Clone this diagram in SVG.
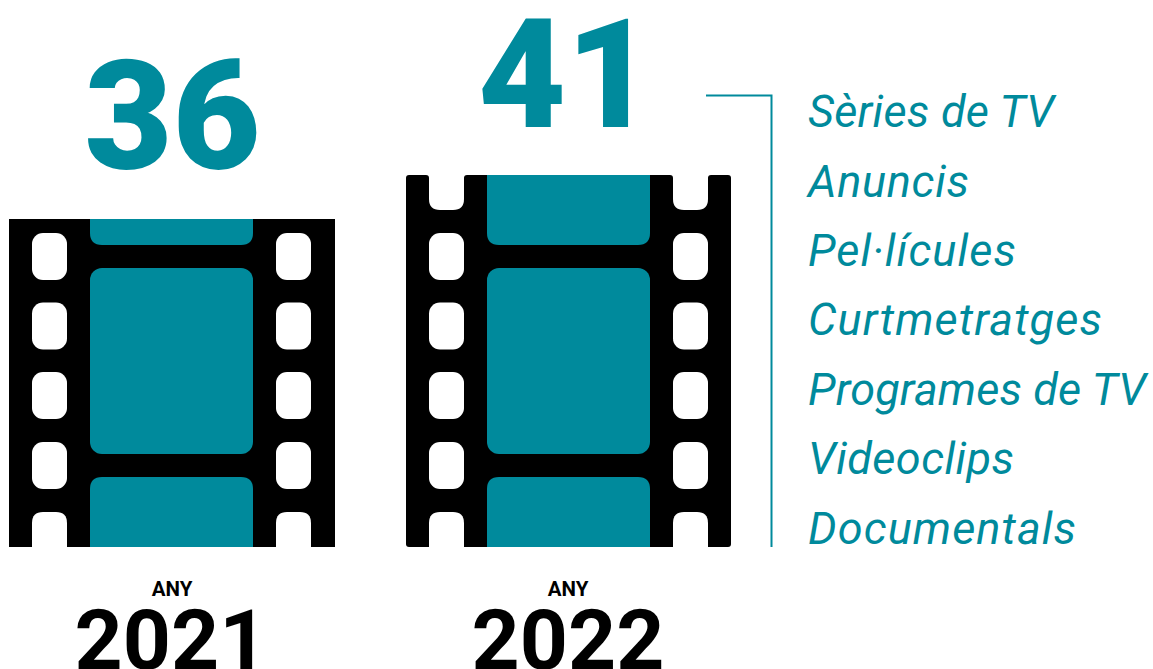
<svg xmlns="http://www.w3.org/2000/svg" width="1153" height="669" viewBox="0 0 1153 669">
<defs><style>
.num{font-family:"Roboto","Liberation Sans",sans-serif;font-weight:900;fill:#008a9c;font-size:152px;text-anchor:middle}
.year{font-family:"Roboto","Liberation Sans",sans-serif;font-weight:700;fill:#000;font-size:84px;text-anchor:middle}
.any{font-family:"Roboto","Liberation Sans",sans-serif;font-weight:700;fill:#000;font-size:20.500px;text-anchor:middle}
.lab{font-family:"Roboto","Liberation Sans",sans-serif;font-style:italic;fill:#008a9c;font-size:45px}
.f{fill:#008a9c}.h{fill:#fff}.b{fill:#000}
</style></defs>
<rect width="1153" height="669" fill="#fff"/>
<g id="film2021">
<rect class="b" x="9" y="219" width="326" height="328"/>
<path class="f" d="M90 219H253V233Q253 245 241 245H102Q90 245 90 233Z"/>
<rect class="f" x="90" y="268" width="163" height="186" rx="12"/>
<path class="f" d="M102 477H241Q253 477 253 489V547H90V489Q90 477 102 477Z"/>
<g class="h">
<rect x="32" y="233" width="35" height="47" rx="11"/><rect x="32" y="302.500" width="35" height="47" rx="11"/><rect x="32" y="372" width="35" height="47" rx="11"/><rect x="32" y="442" width="35" height="47" rx="11"/><path d="M43 512H56Q67 512 67 523V547H32V523Q32 512 43 512Z"/>
<rect x="276" y="233" width="35" height="47" rx="11"/><rect x="276" y="302.500" width="35" height="47" rx="11"/><rect x="276" y="372" width="35" height="47" rx="11"/><rect x="276" y="442" width="35" height="47" rx="11"/><path d="M287 512H300Q311 512 311 523V547H276V523Q276 512 287 512Z"/>
</g>
</g>
<g id="film2022">
<rect class="b" x="406" y="175" width="325" height="372" rx="3"/>
<path class="f" d="M487 175H650V233Q650 245 638 245H499Q487 245 487 233Z"/>
<rect class="f" x="487" y="268" width="163" height="186" rx="12"/>
<path class="f" d="M499 477H638Q650 477 650 489V547H487V489Q487 477 499 477Z"/>
<g class="h">
<path d="M426 175H467Q464 175 464 178V199Q464 210 453 210H440Q429 210 429 199V178Q429 175 426 175Z"/>
<rect x="429" y="233" width="35" height="47" rx="11"/><rect x="429" y="302.500" width="35" height="47" rx="11"/><rect x="429" y="372" width="35" height="47" rx="11"/><rect x="429" y="442" width="35" height="47" rx="11"/><path d="M440 512H453Q464 512 464 523V547H429V523Q429 512 440 512Z"/>
<path d="M670 175H711Q708 175 708 178V199Q708 210 697 210H684Q673 210 673 199V178Q673 175 670 175Z"/>
<rect x="673" y="233" width="35" height="47" rx="11"/><rect x="673" y="302.500" width="35" height="47" rx="11"/><rect x="673" y="372" width="35" height="47" rx="11"/><rect x="673" y="442" width="35" height="47" rx="11"/><path d="M684 512H697Q708 512 708 523V547H673V523Q673 512 684 512Z"/>
</g>
</g>
<g id="counts"><text class="num" x="172.500" y="169">36</text><text class="num" x="566" y="127">41</text></g>
<g id="years">
<text class="any" x="172" y="596">ANY</text><text class="year" x="171" y="669">2021</text>
<text class="any" x="568" y="596">ANY</text><text class="year" x="568" y="669">2022</text>
</g>
<g id="connectors"><path d="M706 95.500H771.500V547" fill="none" stroke="#008a9c" stroke-width="2"/></g>
<g id="labels">
<text class="lab" x="808" y="127" textLength="246">Sèries de TV</text>
<text class="lab" x="808" y="197" textLength="161">Anuncis</text>
<text class="lab" x="808" y="266" textLength="208">Pel·lícules</text>
<text class="lab" x="808" y="335" textLength="294">Curtmetratges</text>
<text class="lab" x="808" y="405" textLength="338">Programes de TV</text>
<text class="lab" x="808" y="474" textLength="206">Videoclips</text>
<text class="lab" x="808" y="544" textLength="268">Documentals</text>
</g>
</svg>
